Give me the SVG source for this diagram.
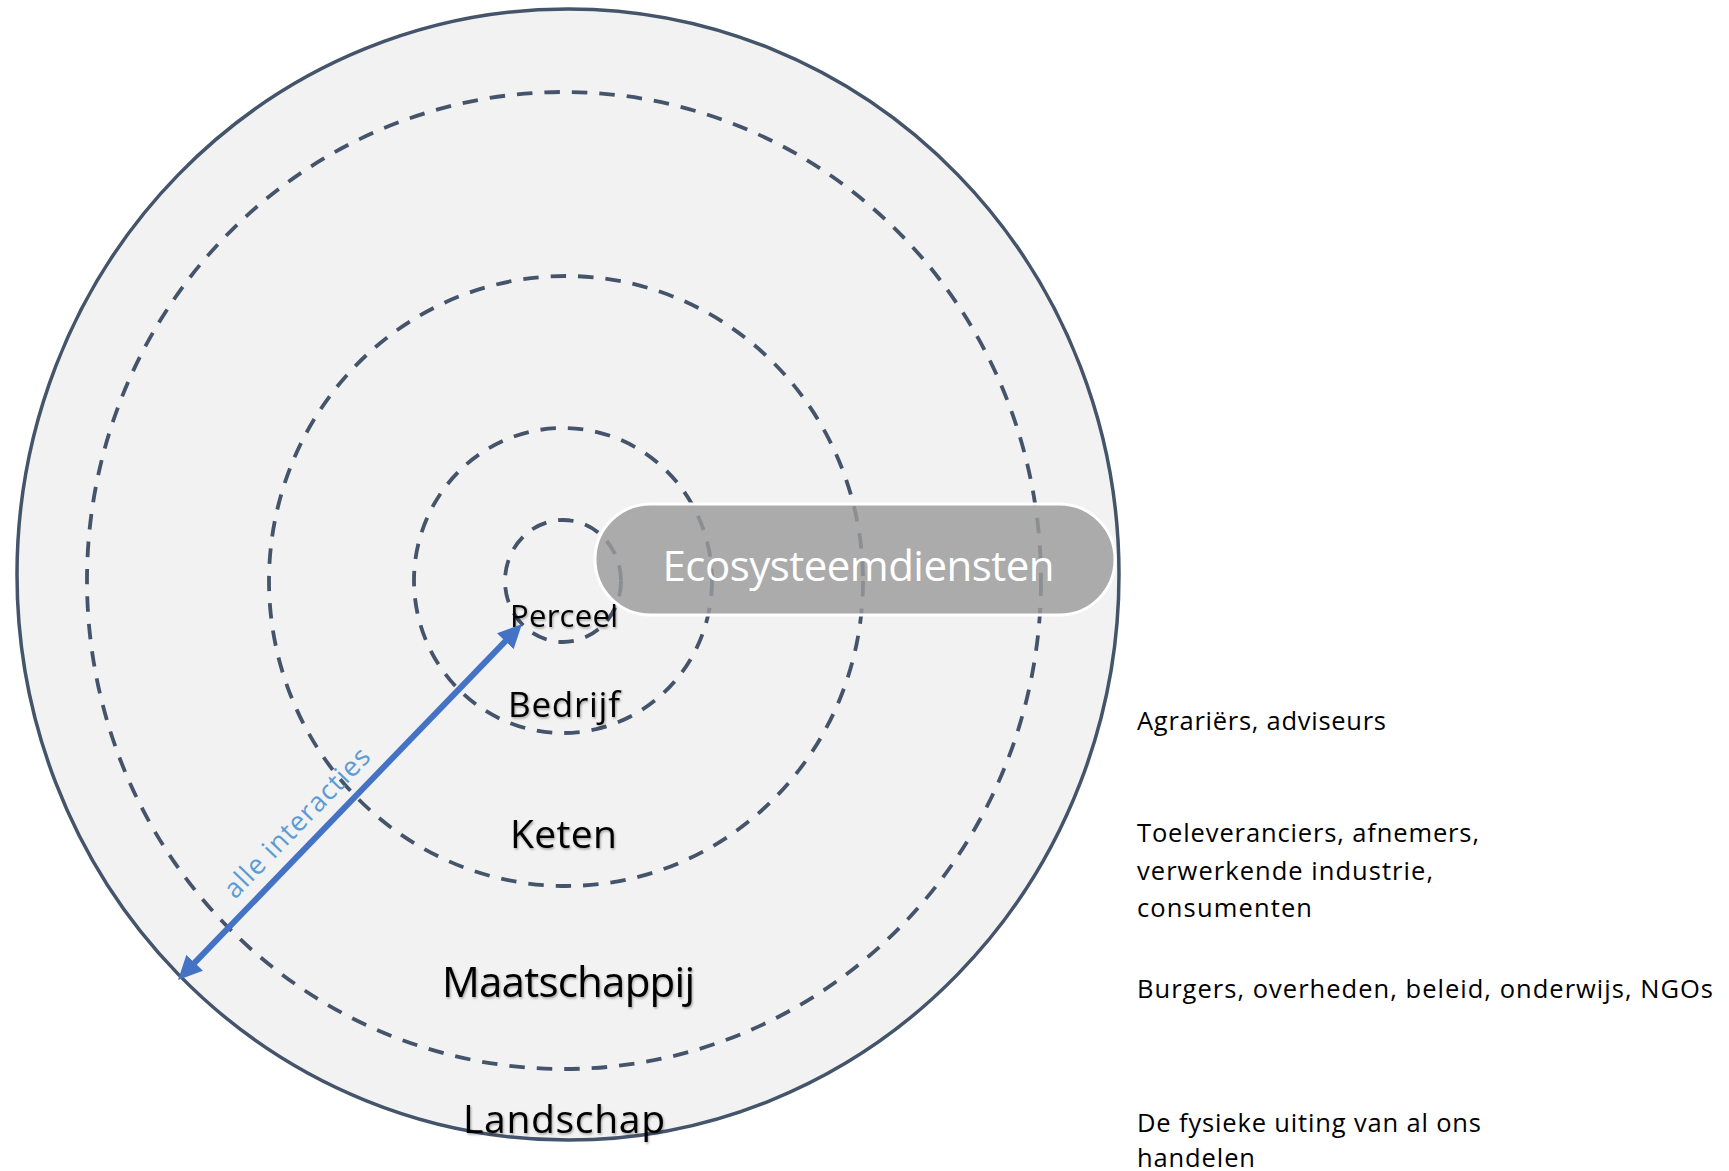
<svg xmlns="http://www.w3.org/2000/svg" width="1729" height="1171" viewBox="0 0 1729 1171">
  <defs>
    <filter id="sh" x="-10%" y="-30%" width="120%" height="160%">
      <feDropShadow dx="1" dy="1.5" stdDeviation="1" flood-color="#000" flood-opacity="0.35"/>
    </filter>
    <marker id="ah" viewBox="0 0 24 23" markerUnits="userSpaceOnUse" markerWidth="24" markerHeight="23" refX="2" refY="11.5" orient="auto-start-reverse">
      <path d="M0,0 L24,11.5 L0,23 z" fill="#4472C4"/>
    </marker>
    <style>
      .ring { fill: none; stroke: #44546A; stroke-width: 3.8; stroke-dasharray: 15.5 12; }
      .lbl { font-family: "Open Sans", "Noto Sans", sans-serif; font-weight: 500; fill: #000; text-anchor: middle; filter: url(#sh); }
      .side { font-family: "Open Sans", "Noto Sans", sans-serif; font-size: 25.5px; fill: #000; }
    </style>
  </defs>
  <rect width="1729" height="1171" fill="#FFFFFF"/>

  <g id="landschap">
    <ellipse cx="568" cy="574.5" rx="551" ry="565.5" fill="#F2F2F2" stroke="#44546A" stroke-width="3.5"/>
  </g>
  <g id="maatschappij">
    <ellipse class="ring" cx="564" cy="580.5" rx="477" ry="488.5"/>
  </g>
  <g id="keten">
    <ellipse class="ring" cx="566" cy="581" rx="297" ry="305"/>
  </g>
  <g id="bedrijf">
    <ellipse class="ring" cx="563" cy="580.5" rx="149" ry="152.5"/>
  </g>
  <g id="perceel">
    <ellipse class="ring" cx="563" cy="581" rx="58" ry="61"/>
  </g>

  <g id="labels">
    <text class="lbl" x="564" y="627" font-size="31" textLength="108">Perceel</text>
    <text class="lbl" x="564" y="717" font-size="35" textLength="112">Bedrijf</text>
    <text class="lbl" x="563.5" y="848" font-size="39" textLength="107">Keten</text>
    <text class="lbl" x="568.5" y="997" font-size="42" textLength="253">Maatschappij</text>
    <text class="lbl" x="564" y="1133" font-size="39" textLength="202">Landschap</text>
  </g>

  <g id="ecosysteemdiensten">
    <rect x="595" y="504" width="520" height="111" rx="55.5" ry="55.5" fill="#9B9B9B" fill-opacity="0.82" stroke="#FFFFFF" stroke-width="3"/>
    <text x="858.5" y="581" font-family="'Open Sans', 'Noto Sans', sans-serif" font-size="42" fill="#FFFFFF" text-anchor="middle" textLength="392">Ecosysteemdiensten</text>
  </g>

  <g id="connectors">
    <line x1="193.3" y1="964.2" x2="506.7" y2="639.8" stroke="#4472C4" stroke-width="6" marker-start="url(#ah)" marker-end="url(#ah)"/>
    <text x="235" y="900" transform="rotate(-46 235 900)" font-family="'Open Sans', 'Noto Sans', sans-serif" font-size="27" fill="#5B9BD5" textLength="197">alle interacties</text>
  </g>

  <g id="descriptions">
    <text class="side" x="1137" y="730" textLength="249">Agrariërs, adviseurs</text>
    <text class="side" x="1137" y="842" textLength="342">Toeleveranciers, afnemers,</text>
    <text class="side" x="1137" y="879.5" textLength="296">verwerkende industrie,</text>
    <text class="side" x="1137" y="917" textLength="175">consumenten</text>
    <text class="side" x="1137" y="998" textLength="576">Burgers, overheden, beleid, onderwijs, NGOs</text>
    <text class="side" x="1137" y="1132" textLength="344">De fysieke uiting van al ons</text>
    <text class="side" x="1137" y="1167" textLength="118">handelen</text>
  </g>
</svg>
